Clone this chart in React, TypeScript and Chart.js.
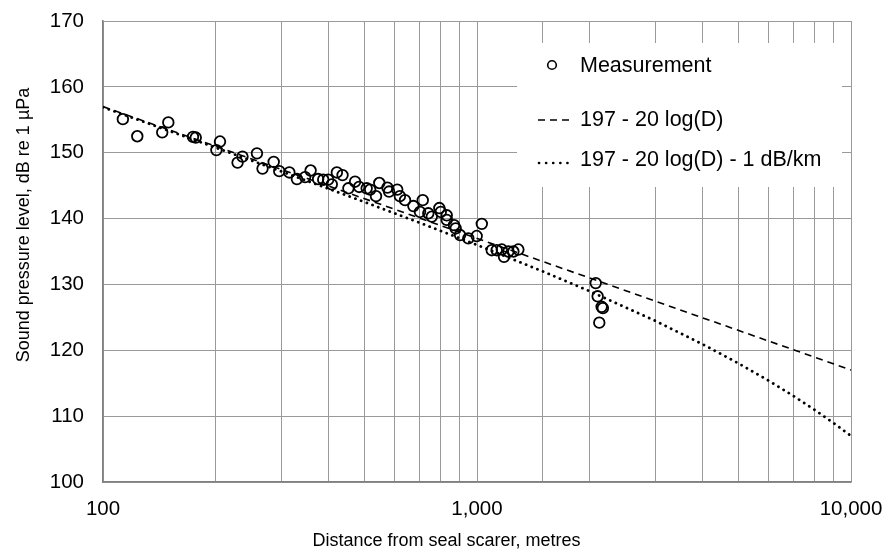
import React, { useEffect, useRef } from 'react';
import { Chart, registerables } from 'chart.js';
Chart.register(...registerables);

// Measurement points (distance in metres, level in dB re 1 µPa)
const distances = [
  113, 123.5, 144, 149.5, 174, 177, 201, 205.5, 229, 236, 258, 267, 286, 296, 315, 330, 347, 359,
  376, 388, 400, 409, 422, 437, 453, 472, 484, 507, 518, 537, 548, 576, 582, 612, 622, 642, 676,
  704, 716, 741, 757, 793, 800, 830, 830, 868, 877, 901, 948, 998, 1030, 1095, 1129, 1165, 1181,
  1213, 1251, 1290, 2077, 2102, 2154, 2170, 2123,
];
const levels = [
  155.1, 152.5, 153.1, 154.6, 152.4, 152.3, 150.4, 151.7, 148.5, 149.4, 149.9, 147.6, 148.6, 147.2,
  147.0, 146.0, 146.3, 147.3, 146.0, 145.9, 145.9, 145.2, 147.0, 146.6, 144.6, 145.6, 144.8, 144.6,
  144.4, 143.4, 145.4, 144.7, 144.1, 144.4, 143.4, 142.8, 141.9, 141.0, 142.8, 140.8, 140.3, 141.6,
  141.0, 140.5, 139.8, 139.0, 138.5, 137.5, 137.0, 137.35, 139.2, 135.2, 135.2, 135.3, 134.2, 135.0,
  135.0, 135.3, 130.2, 128.2, 126.6, 126.4, 124.2,
];

// Spreading-loss line (dashed)
const dashedD = [100, 10000];
const dashedL = [157, 117];

// Spreading-loss plus absorption curve (dotted)
const dottedD = [100, 150, 200, 300, 500, 700, 1000, 1500, 2000, 3000, 4000, 5000, 6000, 7000, 8000, 9000, 10000];
const dottedL = [156.9, 153.33, 150.78, 147.16, 142.52, 139.4, 136, 131.98, 128.98, 124.46, 120.96, 118.02, 115.44, 113.1, 110.94, 108.92, 107];

const xLabelTicks = [100, 1000, 10000];
const yMin = 100;
const yMax = 170;
const yStep = 10;

const legendLabels = ['Measurement', '197 - 20 log(D)', '197 - 20 log(D) - 1 dB/km'];
const xTitle = 'Distance from seal scarer, metres';
const yTitle = 'Sound pressure level, dB re 1 µPa';

const FONT = "'Liberation Sans', Arial, sans-serif";

const overlayPlugin = {
  id: 'overlay',
  afterDraw(chart: any) {
    const ctx = chart.ctx;
    const a = chart.chartArea;
    ctx.save();
    // legend box
    const bx = a.right - 334;
    const by = a.top + 22;
    ctx.fillStyle = '#ffffff';
    ctx.fillRect(bx, by, 325, 144);
    ctx.fillStyle = '#000';
    ctx.strokeStyle = '#000';
    ctx.font = `21.5px ${FONT}`;
    ctx.textAlign = 'left';
    ctx.textBaseline = 'middle';
    const tx = bx + 63;
    const rows = [by + 22, by + 77, by + 117];
    // marker
    ctx.lineWidth = 1.6;
    ctx.beginPath();
    ctx.arc(bx + 35, rows[0], 4.3, 0, Math.PI * 2);
    ctx.stroke();
    ctx.fillText(legendLabels[0], tx, rows[0] + 1);
    // dashed sample
    ctx.lineWidth = 1.6;
    ctx.setLineDash([7, 5]);
    ctx.beginPath();
    ctx.moveTo(bx + 21, rows[1]);
    ctx.lineTo(bx + 57, rows[1]);
    ctx.stroke();
    ctx.fillText(legendLabels[1], tx, rows[1]);
    // dotted sample
    ctx.lineWidth = 2.6;
    ctx.lineCap = 'round';
    ctx.setLineDash([0.1, 7]);
    ctx.beginPath();
    ctx.moveTo(bx + 22, rows[2] + 3);
    ctx.lineTo(bx + 57, rows[2] + 3);
    ctx.stroke();
    ctx.setLineDash([]);
    ctx.lineCap = 'butt';
    ctx.fillText(legendLabels[2], tx, rows[2]);

    // axis titles
    ctx.font = `18px ${FONT}`;
    ctx.textAlign = 'center';
    ctx.fillText(xTitle, chart.width / 2, 541);
    ctx.translate(24, 225);
    ctx.rotate(-Math.PI / 2);
    ctx.fillText(yTitle, 0, 0);
    ctx.restore();
  },
};

export default function App() {
  const ref = useRef<HTMLCanvasElement | null>(null);
  useEffect(() => {
    document.body.style.margin = '0';
    const canvas = ref.current;
    if (!canvas) return;
    const chart = new Chart(canvas, {
      type: 'scatter',
      data: {
        datasets: [
          {
            label: legendLabels[0],
            data: distances.map((d, i) => ({ x: d, y: levels[i] })),
            pointRadius: 5.3,
            pointBorderWidth: 1.8,
            pointBorderColor: '#000',
            pointBackgroundColor: 'rgba(0,0,0,0)',
            showLine: false,
            order: 3,
          },
          {
            label: legendLabels[1],
            data: dashedD.map((d, i) => ({ x: d, y: dashedL[i] })),
            showLine: true,
            borderColor: '#000',
            borderWidth: 1.6,
            borderDash: [7, 5],
            pointRadius: 0,
            order: 1,
          },
          {
            label: legendLabels[2],
            data: dottedD.map((d, i) => ({ x: d, y: dottedL[i] })),
            showLine: true,
            borderColor: '#000',
            borderWidth: 2.8,
            borderDash: [0.1, 6],
            borderCapStyle: 'round',
            pointRadius: 0,
            tension: 0,
            order: 2,
          },
        ],
      } as any,
      options: {
        responsive: false,
        animation: false,
        layout: { padding: { top: 21, right: 42, left: 0, bottom: 0 } },
        plugins: { legend: { display: false }, tooltip: { enabled: false }, title: { display: false } },
        scales: {
          x: {
            type: 'logarithmic',
            min: 100,
            max: 10000,
            afterFit: (s: any) => {
              s.height = 71;
              s.paddingLeft = 0;
              s.paddingRight = 0;
            },
            grid: { color: '#9a9a9a', lineWidth: 1, drawTicks: false },
            border: { color: '#808080', width: 1.5 },
            ticks: {
              autoSkip: false,
              maxRotation: 0,
              padding: 15,
              color: '#000',
              font: { family: FONT, size: 20.5 },
              callback: (v: any) => {
                const n = Number(v);
                return xLabelTicks.some((t) => Math.abs(t - n) < 1e-6) ? n.toLocaleString('en-US') : '';
              },
            },
          },
          y: {
            min: yMin,
            max: yMax,
            afterFit: (s: any) => {
              s.width = 103;
              s.paddingTop = 0;
              s.paddingBottom = 0;
            },
            grid: { color: '#9a9a9a', lineWidth: 1, drawTicks: false },
            border: { color: '#808080', width: 1.5 },
            ticks: {
              stepSize: yStep,
              padding: 19,
              color: '#000',
              font: { family: FONT, size: 20.5 },
            },
          },
        },
      } as any,
      plugins: [overlayPlugin],
    });
    return () => chart.destroy();
  }, []);
  return (
    <div style={{ width: 893, height: 553 }}>
      <canvas ref={ref} width={893} height={553} style={{ display: 'block' }} />
    </div>
  );
}
